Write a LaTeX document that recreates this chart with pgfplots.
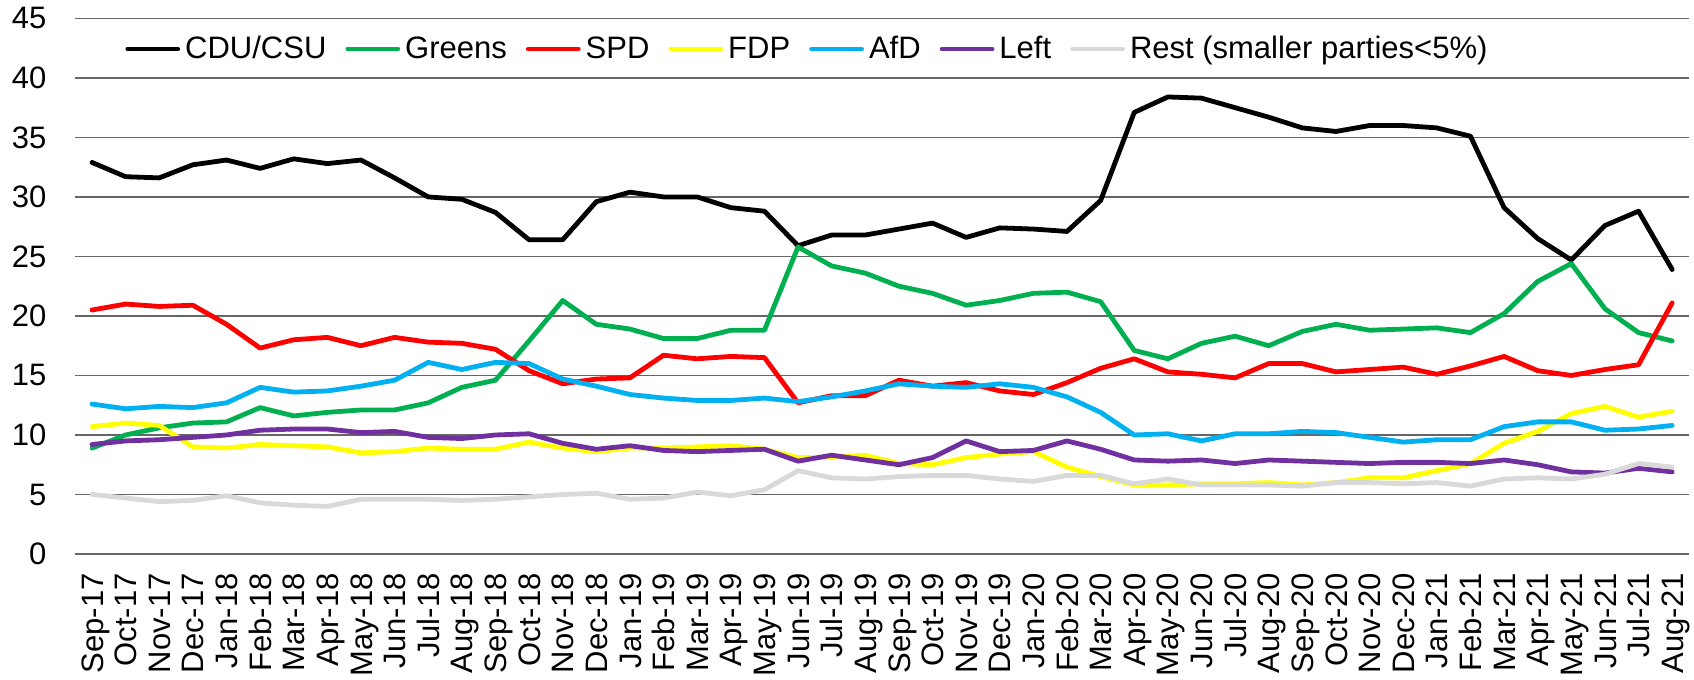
\documentclass[border=0pt]{standalone}
\usepackage{pgfplots}
\pgfplotsset{compat=1.18}
\usepackage{pgfplotstable}
\usepackage{fontspec}
\setmainfont{Liberation Sans}
\definecolor{cdu}{RGB}{0,0,0}
\definecolor{grn}{RGB}{0,176,80}
\definecolor{spd}{RGB}{255,0,0}
\definecolor{fdp}{RGB}{255,255,0}
\definecolor{afd}{RGB}{0,176,240}
\definecolor{lft}{RGB}{112,48,160}
\definecolor{rst}{RGB}{217,217,217}
\newcommand\lbl{\fontsize{15.5pt}{18pt}\selectfont}

\pgfplotstableread{
x cdu grn spd fdp afd lft rst
0 32.9 8.9 20.5 10.7 12.6 9.2 5.0
1 31.7 10.0 21.0 11.0 12.2 9.5 4.7
2 31.6 10.6 20.8 10.8 12.4 9.6 4.4
3 32.7 11.0 20.9 9.0 12.3 9.8 4.5
4 33.1 11.1 19.3 8.9 12.7 10.0 4.9
5 32.4 12.3 17.3 9.2 14.0 10.4 4.3
6 33.2 11.6 18.0 9.1 13.6 10.5 4.1
7 32.8 11.9 18.2 9.0 13.7 10.5 4.0
8 33.1 12.1 17.5 8.5 14.1 10.2 4.6
9 31.6 12.1 18.2 8.6 14.6 10.3 4.6
10 30.0 12.7 17.8 8.9 16.1 9.8 4.6
11 29.8 14.0 17.7 8.8 15.5 9.7 4.5
12 28.7 14.6 17.2 8.8 16.1 10.0 4.6
13 26.4 17.9 15.4 9.4 16.0 10.1 4.8
14 26.4 21.3 14.3 8.9 14.7 9.3 5.0
15 29.6 19.3 14.7 8.6 14.1 8.8 5.1
16 30.4 18.9 14.8 8.9 13.4 9.1 4.6
17 30.0 18.1 16.7 8.9 13.1 8.7 4.7
18 30.0 18.1 16.4 9.0 12.9 8.6 5.2
19 29.1 18.8 16.6 9.1 12.9 8.7 4.9
20 28.8 18.8 16.5 8.8 13.1 8.8 5.4
21 25.9 25.8 12.7 8.1 12.8 7.8 7.0
22 26.8 24.2 13.3 8.1 13.2 8.3 6.4
23 26.8 23.6 13.3 8.3 13.7 7.9 6.3
24 27.3 22.5 14.6 7.6 14.3 7.5 6.5
25 27.8 21.9 14.1 7.5 14.1 8.1 6.6
26 26.6 20.9 14.4 8.1 14.0 9.5 6.6
27 27.4 21.3 13.7 8.4 14.3 8.6 6.3
28 27.3 21.9 13.4 8.6 14.0 8.7 6.1
29 27.1 22.0 14.4 7.3 13.2 9.5 6.6
30 29.7 21.2 15.6 6.5 11.9 8.8 6.6
31 37.1 17.1 16.4 5.8 10.0 7.9 5.9
32 38.4 16.4 15.3 5.8 10.1 7.8 6.3
33 38.3 17.7 15.1 5.9 9.5 7.9 5.8
34 37.5 18.3 14.8 5.9 10.1 7.6 5.8
35 36.7 17.5 16.0 6.0 10.1 7.9 5.8
36 35.8 18.7 16.0 5.8 10.3 7.8 5.7
37 35.5 19.3 15.3 6.0 10.2 7.7 6.0
38 36.0 18.8 15.5 6.4 9.8 7.6 6.0
39 36.0 18.9 15.7 6.4 9.4 7.7 5.9
40 35.8 19.0 15.1 7.0 9.6 7.7 6.0
41 35.1 18.6 15.8 7.6 9.6 7.6 5.7
42 29.1 20.2 16.6 9.3 10.7 7.9 6.3
43 26.5 22.9 15.4 10.3 11.1 7.5 6.4
44 24.7 24.4 15.0 11.8 11.1 6.9 6.3
45 27.6 20.6 15.5 12.4 10.4 6.8 6.7
46 28.8 18.6 15.9 11.5 10.5 7.2 7.6
47 23.9 17.9 21.1 12.0 10.8 6.9 7.3
}\data

\begin{document}
\begin{tikzpicture}
\begin{axis}[
  at={(0,0)}, anchor=south west,
  scale only axis, width=806.9pt, height=267.8pt,
  xmin=-0.5, xmax=47.5, ymin=0, ymax=45,
  xtick=data,
  xticklabels={Sep-17,Oct-17,Nov-17,Dec-17,Jan-18,Feb-18,Mar-18,Apr-18,May-18,Jun-18,Jul-18,Aug-18,Sep-18,Oct-18,Nov-18,Dec-18,Jan-19,Feb-19,Mar-19,Apr-19,May-19,Jun-19,Jul-19,Aug-19,Sep-19,Oct-19,Nov-19,Dec-19,Jan-20,Feb-20,Mar-20,Apr-20,May-20,Jun-20,Jul-20,Aug-20,Sep-20,Oct-20,Nov-20,Dec-20,Jan-21,Feb-21,Mar-21,Apr-21,May-21,Jun-21,Jul-21,Aug-21},
  ytick={0,5,...,45},
  ymajorgrids, grid style={black!60, line width=0.6pt},
  axis line style={draw=none},
  major tick length=0pt,
  tick label style={font=\lbl},
  /pgf/number format/assume math mode=true,
  xticklabel style={rotate=90, anchor=east, inner ysep=0pt, inner xsep=9.5pt, text height=11.1pt, text depth=0pt},
  yticklabel style={anchor=east, inner sep=0pt, xshift=-14.25pt},
  legend columns=-1,
  legend style={at={(rel axis cs:0,1)}, anchor=west, xshift=24.9pt, yshift=-15.3pt,
    draw=none, fill=none, font=\lbl, inner sep=0pt,
    nodes={inner sep=0pt},
    /tikz/every odd column/.append style={column sep=2.5pt},
    /tikz/every even column/.append style={column sep=9.5pt}},
  legend image code/.code={\draw[#1] (0pt,0pt) -- (25pt,0pt);},
  every axis plot/.append style={line width=2.4pt, line join=round, line cap=round, no markers},
]
\addplot[draw=cdu] table[x=x,y=cdu]{\data};
\addlegendentry{CDU/CSU}
\addplot[draw=grn] table[x=x,y=grn]{\data};
\addlegendentry{Greens}
\addplot[draw=spd] table[x=x,y=spd]{\data};
\addlegendentry{SPD}
\addplot[draw=fdp] table[x=x,y=fdp]{\data};
\addlegendentry{FDP}
\addplot[draw=afd] table[x=x,y=afd]{\data};
\addlegendentry{AfD}
\addplot[draw=lft] table[x=x,y=lft]{\data};
\addlegendentry{Left}
\addplot[draw=rst] table[x=x,y=rst]{\data};
\addlegendentry{Rest (smaller parties<5\%)}
\end{axis}
\pgfresetboundingbox
\path (-37.6pt,-63pt) rectangle (809.4pt,277pt);
\end{tikzpicture}
\end{document}
